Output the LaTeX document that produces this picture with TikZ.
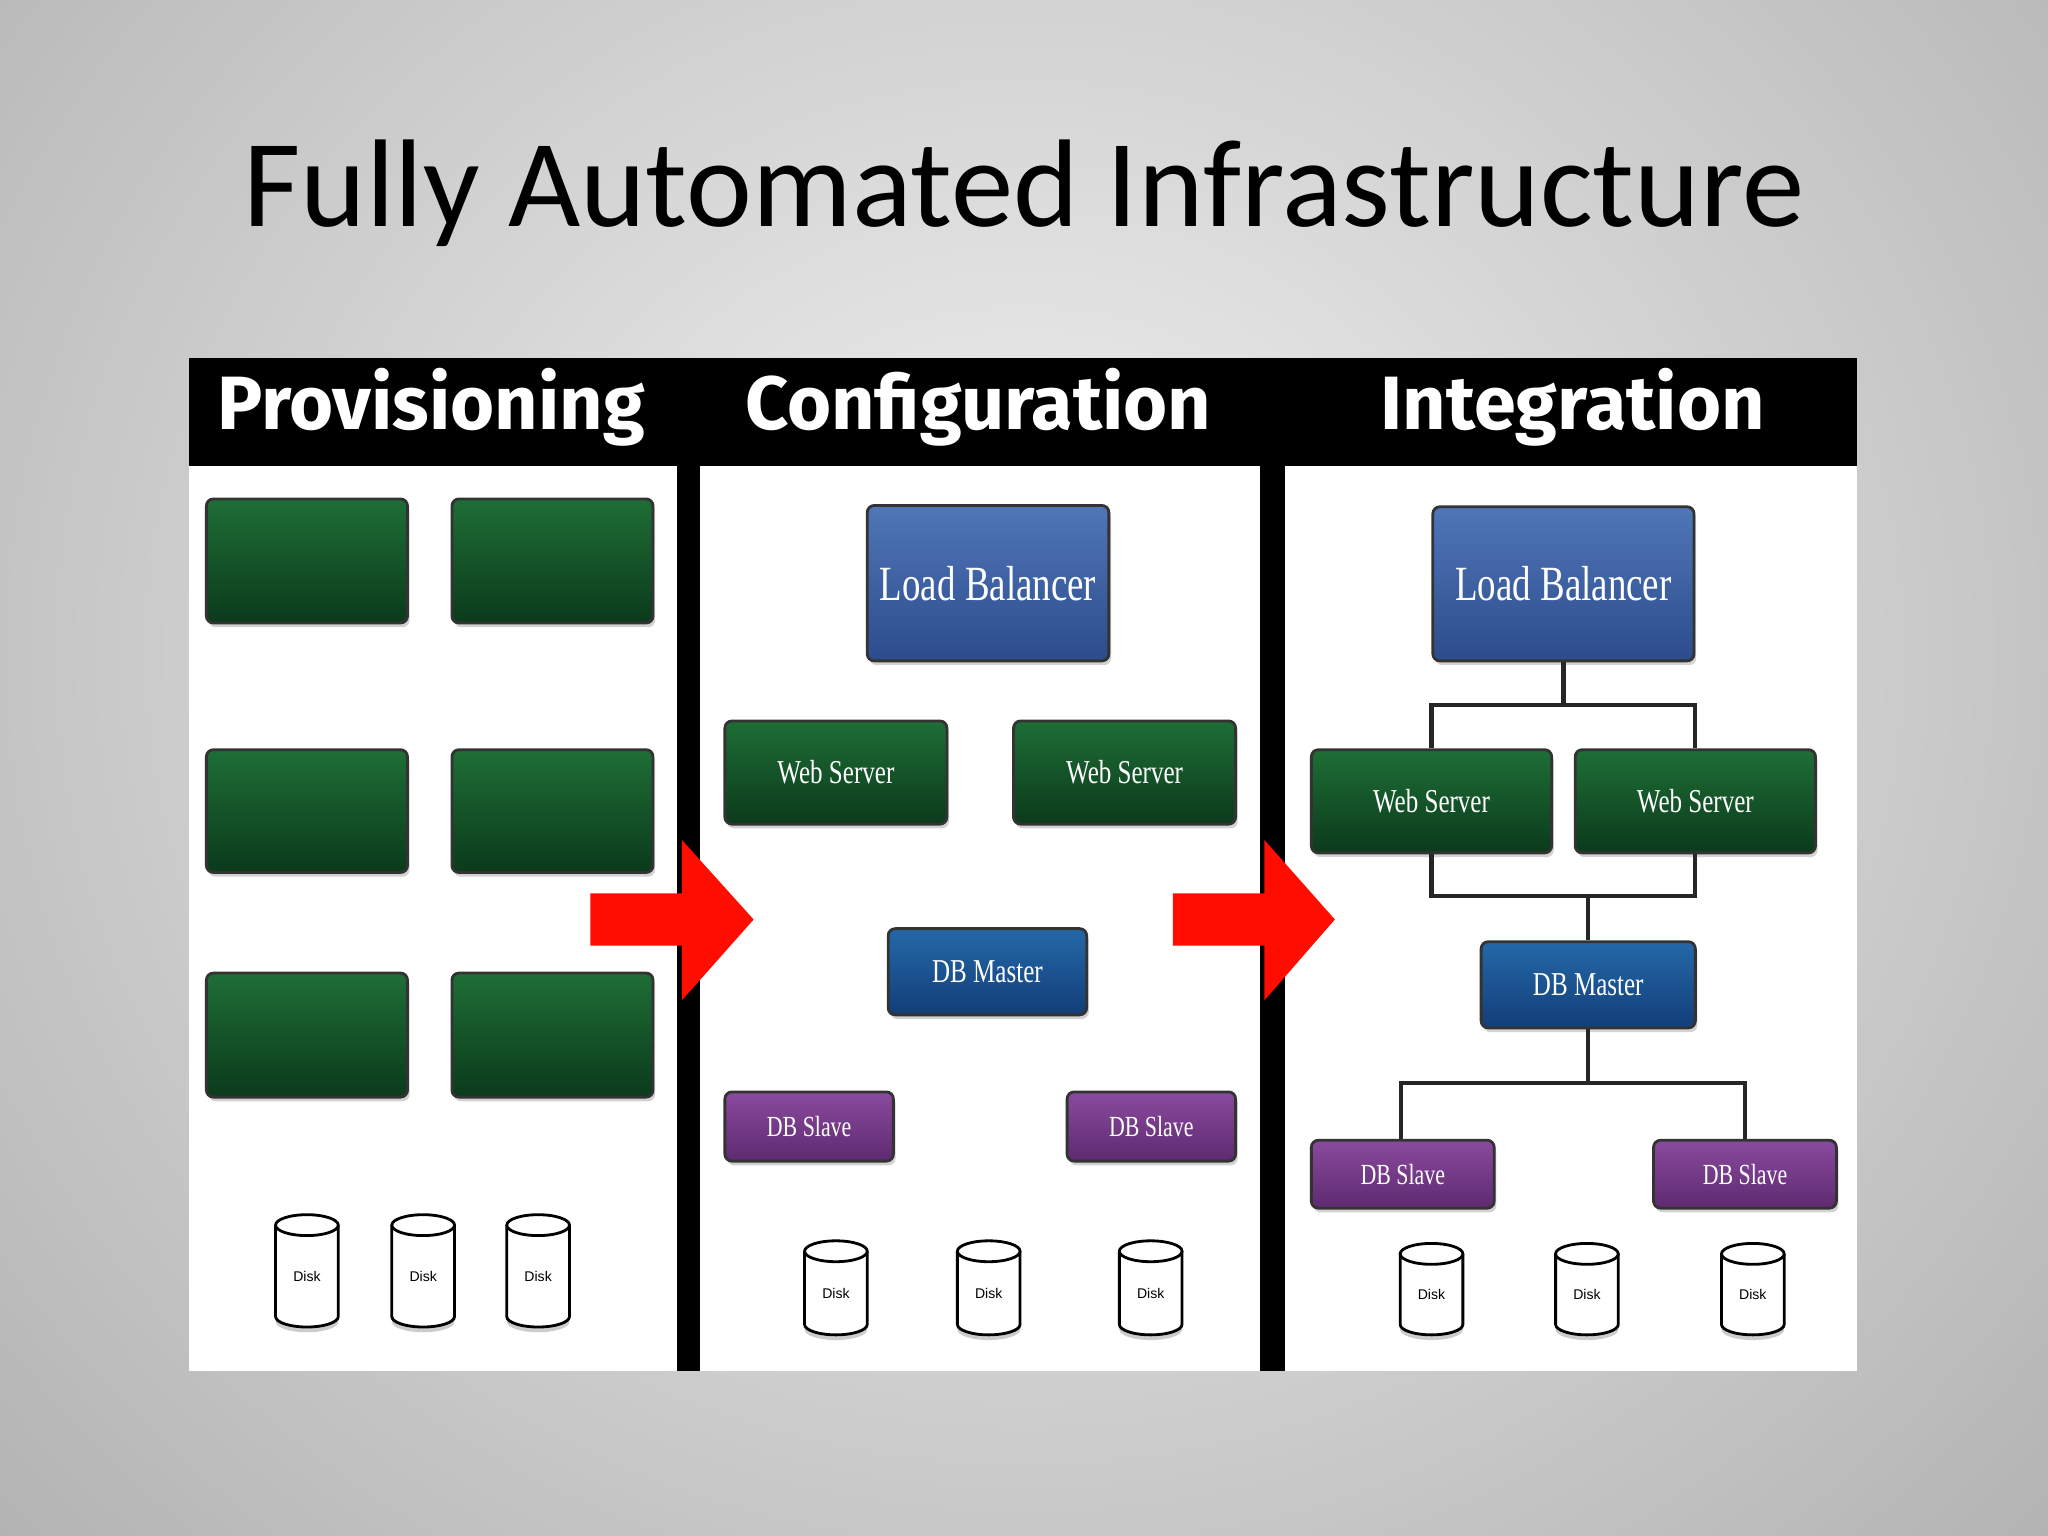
\documentclass[tikz,border=0pt]{standalone}
\usepackage{fontspec}
\setmainfont{Liberation Serif}
\newfontfamily\titlefont{Carlito}
\newfontfamily\headfont{Fira Sans}
\newfontfamily\diskfont{Liberation Sans}
\usetikzlibrary{shadows}
\definecolor{gtop}{HTML}{1E6E36}
\definecolor{gbot}{HTML}{0B3A1B}
\definecolor{btop}{HTML}{5076B8}
\definecolor{bbot}{HTML}{2C4C8C}
\definecolor{dtop}{HTML}{2468A8}
\definecolor{dbot}{HTML}{123E78}
\definecolor{ptop}{HTML}{8A4A9E}
\definecolor{pbot}{HTML}{5E2A70}
\tikzset{
 box/.style={draw=black!80, line width=0.8pt, rounded corners=2pt, inner sep=0pt, text=white, drop shadow={opacity=0.35, shadow xshift=0.6pt, shadow yshift=-1.2pt}},
 gbox/.style={box, top color=gtop, bottom color=gbot},
 bbox/.style={box, top color=btop, bottom color=bbot},
 dbox/.style={box, top color=dtop, bottom color=dbot},
 pbox/.style={box, top color=ptop, bottom color=pbot},
 conn/.style={draw=black!85, line width=1.2pt},
 hd/.style={text=white, font=\headfont\bfseries\fontsize{21.5}{21.5}\selectfont}
}
\newcommand{\smtxt}[1]{\scalebox{0.75}[1]{\fontsize{9.5}{9.5}\selectfont #1}}
\newcommand{\sltxt}[1]{\scalebox{0.75}[1]{\fontsize{8.3}{8.3}\selectfont #1}}
\newcommand{\lgtxt}[1]{\scalebox{0.75}[1]{\fontsize{14}{14}\selectfont #1}}
\newcommand{\bx}[7]{\node[#6, minimum width={(#4-#2)*0.01306cm}, minimum height={(#5-#3)*0.01306cm}] (#1) at ({(#2+#4)/2},{(#3+#5)/2}) {#7};}
\newcommand{\disk}[4]{% name, cx, ytop, ybot
 \fill[black!20] ({#2-24},{#3+8}) -- ({#2-24},{#4}) arc[start angle=180,end angle=360,x radius=24*0.01306cm,y radius=8*0.01306cm] -- ({#2+24},{#3+8});
 \draw[line width=0.8pt, fill=white] ({#2-24},{#3+8}) -- ({#2-24},{#4-4}) arc[start angle=180,end angle=360,x radius=24*0.01306cm,y radius=8*0.01306cm] -- ({#2+24},{#3+8});
 \draw[line width=0.8pt, fill=white] (#2,{#3+8}) ellipse[x radius=24*0.01306cm,y radius=8*0.01306cm];
 \node[font=\diskfont\fontsize{4}{4}\selectfont] (#1) at (#2,{(#3+#4)/2+6}) {Disk};}
\begin{document}
\begin{tikzpicture}[x=0.01306cm, y=-0.01306cm]
\useasboundingbox (0,0) rectangle (1568,1176);
\begin{scope}
\clip (0,0) rectangle (1568,1176);
\shade[inner color=gray!10, outer color=gray!60] (-300,-500) rectangle (1868,1500);
\end{scope}
\node[font=\titlefont\fontsize{35.5}{35.5}\selectfont] (title) at (784,148) {Fully Automated Infrastructure};
\fill[black] (145,274) rectangle (1422,1050);
\fill[white] (145,357) rectangle (518,1050);
\fill[white] (536,357) rectangle (965,1050);
\fill[white] (984,357) rectangle (1422,1050);
\node[hd] (h1) at (330,312) {Provisioning};
\node[hd] (h2) at (749,312) {Configuration};
\node[hd] (h3) at (1204,312) {Integration};
% panel 1
\bx{g1}{158}{382}{312}{477}{gbox}{}
\bx{g2}{346}{382}{500}{477}{gbox}{}
\bx{g3}{158}{574}{312}{668}{gbox}{}
\bx{g4}{346}{574}{500}{668}{gbox}{}
\bx{g5}{158}{745}{312}{840}{gbox}{}
\bx{g6}{346}{745}{500}{840}{gbox}{}
\disk{d1}{235}{930}{1012}
\disk{d2}{324}{930}{1012}
\disk{d3}{412}{930}{1012}
% arrows
\fill[red!90!orange] (452,684) -- (522,684) -- (522,643) -- (577,704) -- (522,766) -- (522,724) -- (452,724) -- cycle;
\fill[red!90!orange] (898,684) -- (968,684) -- (968,643) -- (1022,704) -- (968,766) -- (968,724) -- (898,724) -- cycle;
% panel 2
\bx{lb2}{664}{387}{849}{506}{bbox}{\lgtxt{Load Balancer}}
\bx{w2a}{555}{552}{725}{631}{gbox}{\smtxt{Web Server}}
\bx{w2b}{776}{552}{946}{631}{gbox}{\smtxt{Web Server}}
\bx{m2}{680}{711}{832}{777}{dbox}{\smtxt{DB Master}}
\bx{s2a}{555}{836}{684}{889}{pbox}{\sltxt{DB Slave}}
\bx{s2b}{817}{836}{946}{889}{pbox}{\sltxt{DB Slave}}
\disk{d4}{640}{950}{1018}
\disk{d5}{757}{950}{1018}
\disk{d6}{881}{950}{1018}
% panel 3
\bx{lb3}{1097}{388}{1297}{506}{bbox}{\lgtxt{Load Balancer}}
\bx{w3a}{1004}{574}{1188}{653}{gbox}{\smtxt{Web Server}}
\bx{w3b}{1206}{574}{1390}{653}{gbox}{\smtxt{Web Server}}
\bx{m3}{1134}{721}{1298}{787}{dbox}{\smtxt{DB Master}}
\bx{s3a}{1004}{873}{1144}{925}{pbox}{\sltxt{DB Slave}}
\bx{s3b}{1266}{873}{1406}{925}{pbox}{\sltxt{DB Slave}}
\disk{d7}{1096}{952}{1018}
\disk{d8}{1215}{952}{1018}
\disk{d9}{1342}{952}{1018}
\coordinate (c1) at (1197,540);
\coordinate (c2) at (1216,686);
\coordinate (c3) at (1216,829);
\draw[conn] (lb3.south) -- (c1);
\draw[conn] (c1) -| (w3a.north);
\draw[conn] (c1) -| (w3b.north);
\draw[conn] (w3a.south) |- (c2);
\draw[conn] (w3b.south) |- (c2);
\draw[conn] (c2) -- (m3.north-|c2);
\draw[conn] (m3.south-|c3) -- (c3);
\draw[conn] (c3) -| ([xshift=-0.5pt]s3a.north);
\draw[conn] (c3) -| (s3b.north);
\end{tikzpicture}
\end{document}
